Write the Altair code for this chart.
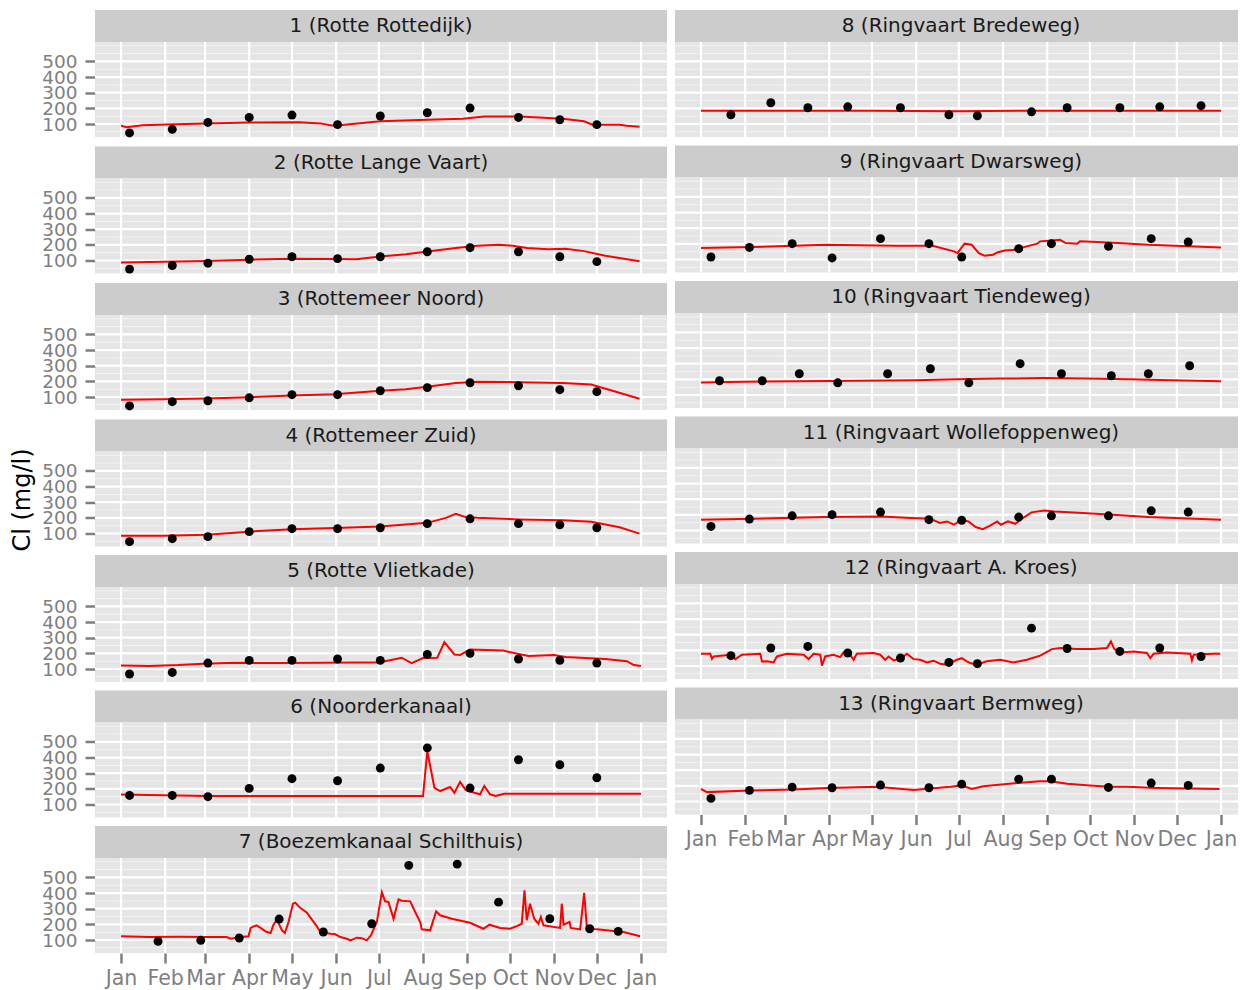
import json
import altair as alt
import pandas as pd

FONT = "DejaVu Sans"

NAMES = [
    "1 (Rotte Rottedijk)", "2 (Rotte Lange Vaart)", "3 (Rottemeer Noord)",
    "4 (Rottemeer Zuid)", "5 (Rotte Vlietkade)", "6 (Noorderkanaal)",
    "7 (Boezemkanaal Schilthuis)", "8 (Ringvaart Bredeweg)", "9 (Ringvaart Dwarsweg)",
    "10 (Ringvaart Tiendeweg)", "11 (Ringvaart Wollefoppenweg)",
    "12 (Ringvaart A. Kroes)", "13 (Ringvaart Bermweg)",
]

# sampling days (days since 1 Jan)
DAYS_ROTTE = [6, 36, 61, 90, 120, 152, 182, 215, 245, 279, 308, 334]
DAYS_BOEZEM = [26, 56, 83, 111, 142, 176, 202, 236, 265, 301, 329, 349]
DAYS_RV_A = [21, 49, 75, 103, 140, 174, 194, 232, 257, 294, 322, 351]
DAYS_RV_B = [7, 34, 64, 92, 126, 160, 183, 223, 246, 286, 316, 342]
DAYS_RV_C = [13, 43, 69, 96, 131, 161, 188, 224, 253, 288, 314, 343]

# measured Cl (mg/l)
MEAS_1 = [43, 66, 110, 142, 157, 96, 151, 172, 202, 142, 127, 96]
MEAS_2 = [45, 68, 83, 108, 124, 112, 124, 156, 182, 156, 124, 93]
MEAS_3 = [43, 70, 76, 95, 115, 115, 140, 160, 191, 172, 147, 134]
MEAS_4 = [48, 67, 80, 112, 131, 131, 137, 163, 194, 163, 156, 137]
MEAS_5 = [68, 78, 138, 155, 155, 164, 155, 193, 200, 164, 155, 138]
MEAS_6 = [158, 158, 150, 203, 265, 252, 333, 462, 205, 386, 354, 271]
MEAS_7 = [92, 98, 113, 234, 151, 204, 577, 585, 342, 236, 172, 155]
MEAS_8 = [159, 236, 204, 210, 204, 159, 153, 178, 204, 204, 210, 217]
MEAS_9 = [116, 177, 201, 110, 233, 201, 116, 169, 201, 184, 233, 212]
MEAS_10 = [191, 191, 236, 178, 236, 268, 178, 300, 236, 223, 236, 287]
MEAS_11 = [126, 173, 194, 201, 218, 169, 165, 186, 194, 194, 226, 218]
MEAS_12 = [166, 215, 225, 183, 151, 123, 115, 342, 212, 193, 215, 161]
MEAS_13 = [120, 171, 192, 188, 205, 188, 211, 243, 243, 190, 218, 203]

# modelled Cl (day, mg/l)
LINE_1 = [(0, 89), (4, 80), (15, 92), (32, 97), (60, 103), (90, 110), (125, 112), (140, 104),
          (148, 90), (155, 93), (182, 117), (215, 127), (240, 134), (255, 148), (280, 148),
          (310, 134), (325, 117), (331, 95), (350, 95), (355, 89), (364, 83)]
LINE_2 = [(0, 88), (30, 92), (60, 97), (90, 105), (120, 112), (150, 110), (165, 108), (182, 125),
          (200, 140), (215, 158), (235, 180), (250, 195), (265, 200), (275, 195), (285, 180),
          (300, 172), (312, 175), (325, 160), (340, 130), (364, 95)]
LINE_3 = [(0, 83), (30, 86), (60, 90), (90, 98), (120, 110), (150, 118), (182, 140), (200, 150),
          (215, 166), (235, 190), (250, 198), (280, 195), (310, 190), (330, 180), (345, 140),
          (364, 89)]
LINE_4 = [(0, 86), (30, 86), (60, 92), (90, 112), (120, 128), (150, 135), (182, 145), (215, 168),
          (228, 200), (235, 226), (242, 205), (250, 200), (280, 190), (310, 185), (330, 175),
          (350, 140), (364, 99)]
LINE_5 = [(0, 123), (20, 120), (40, 125), (58, 134), (80, 140), (110, 138), (140, 140), (165, 141),
          (181, 142), (197, 172), (204, 138), (212, 170), (222, 172), (227, 272), (234, 193),
          (238, 190), (245, 225), (268, 219), (271, 212), (286, 183), (304, 190), (312, 177),
          (340, 164), (355, 150), (360, 125), (365, 119)]
LINE_6 = [(0, 164), (60, 154), (212, 154), (215, 441), (220, 207), (224, 186), (231, 212),
          (234, 175), (238, 245), (242, 192), (248, 175), (252, 165), (255, 218), (259, 165),
          (263, 155), (269, 169), (365, 169)]
LINE_7 = [(0, 124), (20, 119), (40, 121), (60, 119), (74, 119), (77, 108), (84, 119), (89.5, 124),
          (91, 177), (95, 194), (98, 177), (102, 153), (105, 145), (107, 198), (109.4, 230),
          (113, 162), (115, 145), (117.6, 215), (120.7, 332), (122.3, 338), (126, 304),
          (130.5, 274), (134, 230), (137, 194), (140, 151), (147, 140), (150, 138), (154, 119),
          (158.5, 108), (161, 98), (165.5, 115), (169, 112), (172.5, 98), (175.4, 130),
          (179.6, 215), (183.1, 406), (185.4, 347), (187.7, 343), (191.3, 236), (194.8, 360),
          (197.1, 351), (203, 347), (206.5, 279), (210, 215), (211.1, 168), (217, 162),
          (221.2, 283), (224, 258), (232.2, 236), (245, 210), (254.4, 172), (258.6, 198),
          (266.1, 177), (273.1, 172), (277.8, 189), (281.3, 204), (283.2, 417), (284.8, 226),
          (287.1, 332), (290, 236), (293, 204), (294.7, 247), (296.5, 194), (308.2, 177),
          (309.4, 332), (310.6, 198), (314.8, 215), (315.7, 177), (322.3, 168), (325.1, 402),
          (327, 177), (334, 168), (352.7, 151), (364.4, 124)]
LINE_8 = [(0, 185), (60, 184), (120, 184), (180, 182), (240, 185), (300, 184), (365, 184)]
LINE_9 = [(0, 173), (36, 180), (87, 194), (137, 188), (162.5, 188), (177.6, 152), (180, 141),
          (185, 201), (190, 194), (195, 141), (199, 124), (205, 131), (208, 145), (213, 158),
          (221, 162), (224, 173), (236, 201), (238, 216), (246, 222), (252, 226), (256, 205),
          (264, 201), (266, 216), (286, 209), (314, 194), (365, 177)]
LINE_10 = [(0, 180), (30, 185), (90, 190), (150, 195), (180, 200), (210, 205), (240, 208),
           (270, 205), (300, 200), (330, 195), (365, 188)]
LINE_11 = [(0, 169), (36, 175), (87, 186), (127, 190), (147, 180), (157, 177), (162.5, 169),
           (167.5, 148), (172.6, 158), (177.6, 137), (182.7, 169), (187.7, 158), (192.8, 122),
           (197.8, 109), (202.9, 131), (207.9, 158), (210.5, 137), (215.5, 158), (220.6, 143),
           (227, 186), (232, 216), (241, 228), (248, 222), (258.5, 216), (289, 201), (314, 186),
           (365, 169)]
LINE_12 = [(0, 178), (6.5, 178), (7.7, 146), (8.9, 161), (20.6, 172), (24.1, 144), (28.7, 172),
           (41.6, 178), (42.8, 129), (46.3, 130), (50.9, 123), (53.3, 161), (60.3, 178),
           (72, 172), (75.5, 144), (79, 178), (83.7, 172), (84.9, 102), (87.2, 161), (93, 172),
           (97.7, 157), (100, 187), (104.7, 172), (107.1, 140), (109.4, 178), (121.1, 183),
           (125.8, 172), (129.3, 140), (131.6, 161), (135.3, 136), (140.8, 151), (144.5, 178),
           (149.2, 144), (153.9, 140), (158.5, 123), (163.2, 134), (167.9, 115), (172.6, 108),
           (179.6, 140), (183.1, 150), (186.6, 130), (189, 119), (193.6, 108), (200.6, 130),
           (210, 140), (219.3, 123), (228.7, 140), (238.1, 166), (246.3, 208), (252.2, 215),
           (263.8, 208), (275.5, 208), (284.9, 215), (287.7, 257), (290.1, 208), (294.3, 187),
           (303.7, 193), (313, 183), (315.4, 151), (317.7, 178), (327.1, 187), (343.5, 178),
           (344.6, 136), (345.8, 172), (359.8, 178), (364.5, 178)]
LINE_13 = [(0, 180), (4.2, 160), (34.6, 170), (65, 177), (88.4, 187), (123.5, 194), (149.2, 173),
           (175, 194), (183, 203), (190, 180), (198, 198), (222, 218), (238, 229), (245, 229),
           (257, 213), (273, 203), (287, 194), (299, 194), (320, 187), (364, 180)]

SAMPLE_DAYS = [DAYS_ROTTE] * 6 + [DAYS_BOEZEM, DAYS_RV_A, DAYS_RV_B, DAYS_RV_C, DAYS_RV_B,
                                  DAYS_RV_A, DAYS_RV_B]
MEASURED = [MEAS_1, MEAS_2, MEAS_3, MEAS_4, MEAS_5, MEAS_6, MEAS_7, MEAS_8, MEAS_9, MEAS_10,
            MEAS_11, MEAS_12, MEAS_13]
MODELLED = [LINE_1, LINE_2, LINE_3, LINE_4, LINE_5, LINE_6, LINE_7, LINE_8, LINE_9, LINE_10,
            LINE_11, LINE_12, LINE_13]

MONTHS = ["Jan", "Feb", "Mar", "Apr", "May", "Jun", "Jul", "Aug", "Sep", "Oct", "Nov", "Dec", "Jan"]
_start = pd.Timestamp("2013-01-01")
MONTH_START = [int((d - _start).days) for d in pd.date_range("2013-01-01", "2014-01-01", freq="MS")]
Y_TICKS = [100, 200, 300, 400, 500]
Y_MINOR = [50, 150, 250, 350, 450, 550, 600]
Y_DOMAIN = [17, 624]
# left column: full width; right column trimmed on its right side so the page fits
X_DOMAIN_LEFT = [-18.25, 383.25]
X_DOMAIN_RIGHT = [-18.25, 376.93]

W_LEFT, W_RIGHT, PH, SH = 572, 563, 95, 32
GREY_TXT = "#7F7F7F"

ys = alt.Scale(domain=Y_DOMAIN, nice=False, zero=False)
label_expr = f"{json.dumps(MONTHS)}[indexof({json.dumps(MONTH_START)}, datum.value)]"


def x_axis(show):
    if not show:
        return None
    return alt.Axis(title=None, values=MONTH_START, labelExpr=label_expr, grid=False, domain=False,
                    tickSize=10, tickWidth=2.5, tickColor=GREY_TXT, labelColor=GREY_TXT,
                    labelFont=FONT, labelFontSize=20.5, labelPadding=5, labelOverlap=False,
                    labelFlush=False)


def y_axis(show):
    if not show:
        return None
    return alt.Axis(title=None, values=Y_TICKS, grid=False, domain=False,
                    tickSize=10, tickWidth=2.5, tickColor=GREY_TXT, labelColor=GREY_TXT,
                    labelFont=FONT, labelFontSize=18.5, labelPadding=8, labelOverlap=False,
                    labelFlush=False)


def panel(i, left, bottom):
    xa, ya = x_axis(bottom), y_axis(left)
    W = W_LEFT if left else W_RIGHT
    xs = alt.Scale(domain=X_DOMAIN_LEFT if left else X_DOMAIN_RIGHT, nice=False, zero=False)

    def X(f):
        return alt.X(f, type="quantitative", scale=xs, axis=xa)

    def Y(f):
        return alt.Y(f, type="quantitative", scale=ys, axis=ya)

    minor = alt.Chart(pd.DataFrame({"cl": Y_MINOR})).mark_tick(
        orient="horizontal", size=W, thickness=1, color="#F2F2F2", opacity=1).encode(y=Y("cl"))
    major_h = alt.Chart(pd.DataFrame({"cl": Y_TICKS})).mark_tick(
        orient="horizontal", size=W, thickness=2.2, color="white", opacity=1).encode(y=Y("cl"))
    major_v = alt.Chart(pd.DataFrame({"day": MONTH_START})).mark_tick(
        orient="vertical", size=PH, thickness=2.2, color="white", opacity=1).encode(x=X("day"))
    line = alt.Chart(pd.DataFrame(MODELLED[i], columns=["day", "cl"])).mark_line(
        color="#FF0000", strokeWidth=2).encode(x=X("day"), y=Y("cl"))
    pts = alt.Chart(pd.DataFrame({"day": SAMPLE_DAYS[i], "cl": MEASURED[i]})).mark_circle(
        color="black", size=80, opacity=1).encode(x=X("day"), y=Y("cl"))
    plot = alt.layer(minor, major_h, major_v, line, pts).properties(
        width=W, height=PH,
        view=alt.ViewBackground(fill="#E5E5E5", stroke="transparent", strokeWidth=0))

    strip = alt.Chart(pd.DataFrame({"label": [NAMES[i]]})).mark_text(
        font=FONT, fontSize=20, color="#1A1A1A", align="center", baseline="middle"
    ).encode(text="label:N", x=alt.value(W_LEFT / 2), y=alt.value(SH / 2)).properties(
        width=W, height=SH,
        view=alt.ViewBackground(fill="#CCCCCC", stroke="transparent", strokeWidth=0))
    return alt.vconcat(strip, plot, spacing=0)


left_col = alt.vconcat(*[panel(i, True, i == 6) for i in range(7)], spacing=8.5)
right_col = alt.vconcat(*[panel(i, False, i == 12) for i in range(7, 13)], spacing=8.5)

ylab = alt.Chart(pd.DataFrame({"t": ["Cl (mg/l)"]})).mark_text(
    font=FONT, fontSize=24, color="black", angle=270, align="center", baseline="middle"
).encode(text="t:N", x=alt.value(15), y=alt.value(490)).properties(
    width=27, height=940,
    view=alt.ViewBackground(fill="transparent", stroke="transparent", strokeWidth=0))

left_block = alt.hconcat(ylab, left_col, spacing=6)
chart = alt.hconcat(left_block, right_col, spacing=8).properties(
    padding={"left": 0, "top": 2, "right": 0, "bottom": 0}
).configure_view(stroke="transparent", strokeWidth=0).configure(background="white")

chart.save("out.html", embed_options={"renderer": "svg", "actions": False})
